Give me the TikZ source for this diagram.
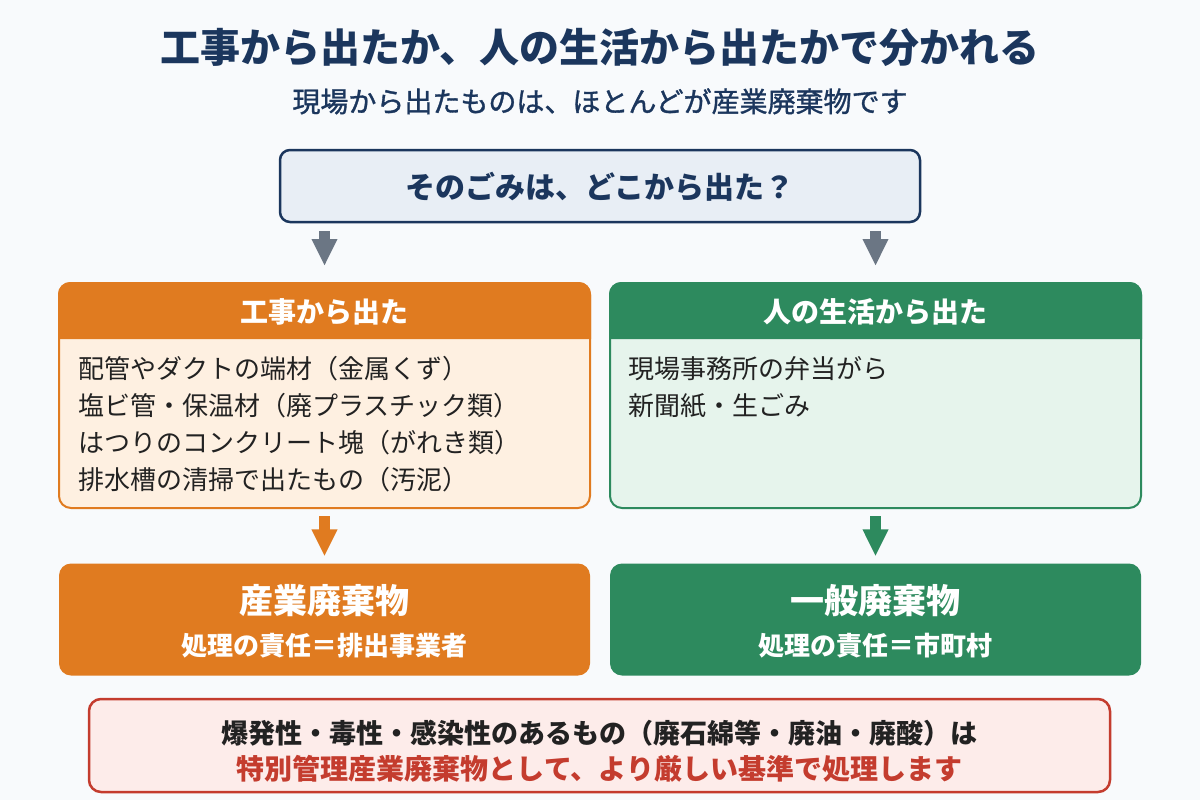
\documentclass[tikz,border=0pt]{standalone}
\usepackage{fontspec}
\setmainfont{Noto Sans CJK JP}
\newfontfamily\jpmed[FakeBold=1.2]{Noto Sans CJK JP}
\usetikzlibrary{arrows.meta,calc}
\definecolor{bgc}{HTML}{F8FAFC}
\definecolor{navy}{HTML}{1B365D}
\definecolor{qfill}{HTML}{E8EEF5}
\definecolor{grayc}{HTML}{6B7684}
\definecolor{orgc}{HTML}{E07B20}
\definecolor{orgbody}{HTML}{FEF0E1}
\definecolor{grnc}{HTML}{2D8A5E}
\definecolor{grnbody}{HTML}{E6F4EC}
\definecolor{redc}{HTML}{C43C2E}
\definecolor{redfill}{HTML}{FDECEA}
\definecolor{ink}{HTML}{222222}
\newcommand\fsz[1]{\fontsize{#1}{#1}\selectfont}
\begin{document}
\begin{tikzpicture}[x=1pt,y=-1pt,
  txt/.style={inner sep=0pt, anchor=base},
  ltxt/.style={inner sep=0pt, anchor=base west, text=ink},
  panel/.style={line width=2pt, rounded corners=12pt, minimum width=531pt, minimum height=225pt, inner sep=0pt},
  resbox/.style={rounded corners=12pt, minimum width=531pt, minimum height=112pt, inner sep=0pt},
  blockarr/.style={line width=11pt, -{Triangle[width=24pt,length=27pt]}}]
\useasboundingbox[fill=bgc] (0,0) rectangle (1200,800);

% title
\node[txt, text=navy] (title) at (600,63) {\fsz{40}\bfseries 工事から出たか、人の生活から出たかで分かれる};
\node[txt, text=navy] (sub) at (600,112) {\fsz{28}\jpmed 現場から出たものは、ほとんどが産業廃棄物です};

% question
\node[draw=navy, fill=qfill, line width=2.5pt, rounded corners=10pt, minimum width=640pt, minimum height=72pt, inner sep=0pt] (q) at (600,186) {};
\node[txt, text=navy] (qt) at (600,198) {\fsz{30}\bfseries そのごみは、どこから出た？};

% panels
\node[panel, draw=orgc, fill=orgbody] (lbox) at (324.5,395.5) {};
\fill[orgc] ($(lbox.north west)+(0,57)$) [rounded corners=12pt] -- (lbox.north west) -- (lbox.north east) [sharp corners] -- ($(lbox.north east)+(0,57)$) -- cycle;
\node[txt, text=white] (lhead) at (324.5,322) {\fsz{28}\bfseries 工事から出た};
\node[ltxt] (l1) at (78,378) {\fsz{26}配管やダクトの端材（金属くず）};
\node[ltxt] (l2) at (78,415) {\fsz{26}塩ビ管・保温材（廃プラスチック類）};
\node[ltxt] (l3) at (78,452) {\fsz{26}はつりのコンクリート塊（がれき類）};
\node[ltxt] (l4) at (78,489) {\fsz{26}排水槽の清掃で出たもの（汚泥）};

\node[panel, draw=grnc, fill=grnbody] (rbox) at (875.5,395.5) {};
\fill[grnc] ($(rbox.north west)+(0,57)$) [rounded corners=12pt] -- (rbox.north west) -- (rbox.north east) [sharp corners] -- ($(rbox.north east)+(0,57)$) -- cycle;
\node[txt, text=white] (rhead) at (875.5,322) {\fsz{28}\bfseries 人の生活から出た};
\node[ltxt] (r1) at (628,378) {\fsz{26}現場事務所の弁当がら};
\node[ltxt] (r2) at (628,415) {\fsz{26}新聞紙・生ごみ};

% result boxes
\node[resbox, fill=orgc] (lres) at (324.5,619.5) {};
\node[txt, text=white] (lrt) at (324.5,613) {\fsz{34}\bfseries 産業廃棄物};
\node[txt, text=white] (lrs) at (324.5,655) {\fsz{26}\bfseries 処理の責任＝排出事業者};
\node[resbox, fill=grnc] (rres) at (875.5,619.5) {};
\node[txt, text=white] (rrt) at (875.5,613) {\fsz{34}\bfseries 一般廃棄物};
\node[txt, text=white] (rrs) at (875.5,655) {\fsz{26}\bfseries 処理の責任＝市町村};

% arrows
\draw[blockarr, grayc] ($(lbox.north |- q.south)+(0,8)$) -- ($(lbox.north)+(0,-16)$);
\draw[blockarr, grayc] ($(rbox.north |- q.south)+(0,8)$) -- ($(rbox.north)+(0,-16)$);
\draw[blockarr, orgc] ($(lbox.south)+(0,7)$) -- ($(lres.north)+(0,-7)$);
\draw[blockarr, grnc] ($(rbox.south)+(0,7)$) -- ($(rres.north)+(0,-7)$);

% note
\node[draw=redc, fill=redfill, line width=2.5pt, rounded corners=12pt, minimum width=1021pt, minimum height=93pt, inner sep=0pt] (note) at (599.5,745.5) {};
\node[txt, text=ink] (n1) at (599.5,743) {\fsz{27}\bfseries 爆発性・毒性・感染性のあるもの（廃石綿等・廃油・廃酸）は};
\node[txt, text=redc] (n2) at (599.5,779) {\fsz{28}\bfseries 特別管理産業廃棄物として、より厳しい基準で処理します};
\end{tikzpicture}
\end{document}
